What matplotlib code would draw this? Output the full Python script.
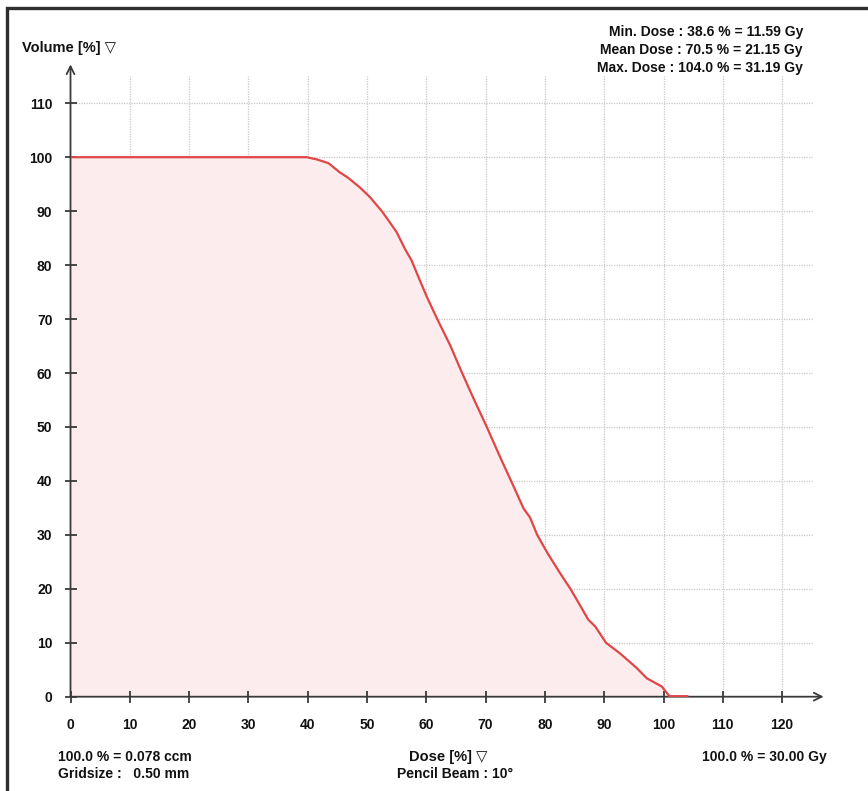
import matplotlib
matplotlib.use("Agg")
import matplotlib.pyplot as plt
from matplotlib.lines import Line2D

plt.rcParams['font.family'] = ['Liberation Sans', 'DejaVu Sans']
plt.rcParams['font.weight'] = 'bold'

# ---- data ----
dose = [0, 39.8, 41.5, 43.5, 45.4, 46.8, 48.8, 50.5, 52.5, 53.8, 55.0, 56.4, 57.5,
        58.9, 60.1, 61.8, 64.0, 66.0, 68.0, 70.2, 72.7, 74.3, 76.4, 77.5, 78.7,
        80.5, 82.5, 84.3, 86.0, 87.3, 88.5, 90.3, 92.7, 95.5, 97.2, 99.7, 101.0, 104.0]
volume = [100, 100, 99.6, 98.9, 97.2, 96.2, 94.4, 92.6, 90.0, 88.0, 86.1, 83.0, 80.9,
          77.2, 74.1, 70.1, 65.2, 60.1, 55.2, 50.0, 43.8, 40.0, 34.9, 33.2, 30.0,
          26.5, 23.0, 20.0, 16.8, 14.3, 13.0, 10.0, 8.0, 5.3, 3.4, 1.9, 0.1, 0.1]
x_ticks = [0, 10, 20, 30, 40, 50, 60, 70, 80, 90, 100, 110, 120]
y_ticks = [0, 10, 20, 30, 40, 50, 60, 70, 80, 90, 100, 110]
stats = ["Min. Dose : 38.6 % = 11.59 Gy",
         "Mean Dose : 70.5 % = 21.15 Gy",
         "Max. Dose : 104.0 % = 31.19 Gy"]
y_title = "Volume [%] \u25bd"
x_title = "Dose [%] \u25bd"
x_subtitle = "Pencil Beam : 10\u00b0"
left_notes = ["100.0 % = 0.078 ccm", "Gridsize :   0.50 mm"]
right_note = "100.0 % = 30.00 Gy"

W, H = 868, 791
fig = plt.figure(figsize=(W / 100, H / 100), dpi=100)
fig.patch.set_facecolor('white')

x0px, y0px = 70.5, 696.7
pxx, pxy = 5.93, 5.395
xmax, ymax = 130, 120
ax = fig.add_axes([x0px / W, (H - y0px) / H, xmax * pxx / W, ymax * pxy / H])
ax.set_xlim(0, xmax)
ax.set_ylim(0, ymax)
ax.patch.set_alpha(0)
ax.set_axisbelow(False)
for s in ax.spines.values():
    s.set_visible(False)

axis_col = '#3a3a3a'
grid_col = '#cdc6c6'

# grid
ax.vlines(x_ticks[1:], 0, 115, colors=grid_col, linestyles=(0, (1, 1)), lw=0.9, zorder=1)
ax.hlines(y_ticks[1:], 0, 125, colors=grid_col, linestyles=(0, (1, 1)), lw=0.9, zorder=1)

# DVH
ax.fill_between(dose, volume, 0, color='#fdeced', zorder=1.5, lw=0)
ax.plot(dose, volume, color='#e04646', lw=1.6, zorder=4, solid_joinstyle='round')

# axes arrows
ax.annotate('', xy=(127, 0), xytext=(0, 0), xycoords='data',
            arrowprops=dict(arrowstyle='->', color=axis_col, lw=1.3,
                            mutation_scale=14, shrinkA=0, shrinkB=0),
            annotation_clip=False, zorder=3)
ax.annotate('', xy=(0, 117.2), xytext=(0, 0), xycoords='data',
            arrowprops=dict(arrowstyle='->', color=axis_col, lw=1.3,
                            mutation_scale=14, shrinkA=0, shrinkB=0),
            annotation_clip=False, zorder=3)

# ticks
ax.set_xticks(x_ticks)
ax.set_yticks(y_ticks)
ax.tick_params(axis='both', direction='inout', length=9, width=1.3, color=axis_col,
               labelsize=10, labelcolor='#111111')
ax.tick_params(axis='x', pad=11)
ax.tick_params(axis='y', pad=8.5)
for lab in ax.get_xticklabels() + ax.get_yticklabels():
    lab.set_fontweight('bold')

def ftext(xp, yp, s, ha='left', size=10, **kw):
    fig.text(xp / W, 1 - yp / H, s, ha=ha, va='center', fontsize=size,
             fontweight='bold', color='#111111', **kw)

ftext(22, 48, y_title, size=10.5)
for i, s in enumerate(stats):
    ftext(803, 32 + 18 * i, s, ha='right')
ftext(58, 757, left_notes[0])
ftext(58, 774, left_notes[1])
ftext(448, 757, x_title, ha='center', size=10.5)
ftext(455, 774, x_subtitle, ha='center')
ftext(702, 757, right_note)

# frame (left and top edges)
fig.add_artist(Line2D([6.5 / W, 6.5 / W, 1], [0, 1 - 7.5 / H, 1 - 7.5 / H],
                      transform=fig.transFigure, color='#2e2e2e', lw=2.4,
                      solid_joinstyle='miter'))

fig.savefig('out.png', dpi=100, facecolor='white')
